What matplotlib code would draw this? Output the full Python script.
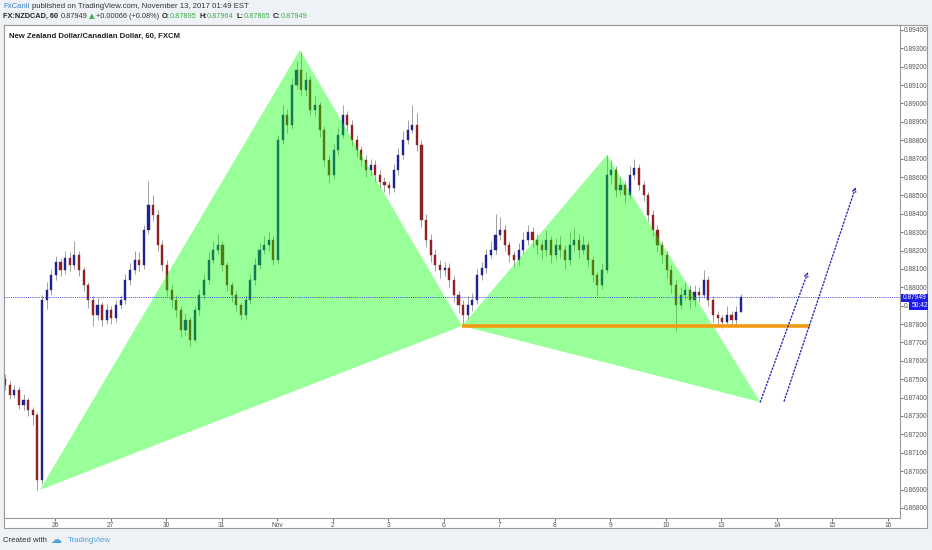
#NZDCAD 60 min chart with a harmonic pattern drawn on top (TradingView style)

import numpy as np
import matplotlib.pyplot as plt
from matplotlib.patches import Rectangle

##Price data, 2 hour bars, in units of 1e-5 (87949 -> 0.87949)
open0 = 87500
close_pts = [87469, 87414, 87442, 87360, 87387, 87333, 87306, 86952, 87931, 87986,
             88067, 88138, 88094, 88160, 88122, 88176, 88094, 88013, 87931, 87850,
             87904, 87822, 87877, 87833, 87904, 87931, 88040, 88094, 88149, 88122,
             88312, 88448, 88394, 88230, 88122, 87986, 87931, 87877, 87768, 87822,
             87714, 87877, 87958, 88040, 88149, 88203, 88230, 88122, 88013, 87958,
             87904, 87850, 87931, 88040, 88122, 88203, 88230, 88258, 88149, 88802,
             88938, 88883, 89101, 89182, 89074, 89128, 88965, 88992, 88856, 88693,
             88611, 88747, 88829, 88938, 88883, 88802, 88747, 88693, 88638, 88666,
             88611, 88573, 88557, 88540, 88638, 88720, 88802, 88856, 88883, 88774,
             88366, 88258, 88176, 88122, 88094, 88105, 88040, 87958, 87904, 87850,
             87904, 87931, 88067, 88105, 88176, 88203, 88285, 88312, 88230, 88176,
             88149, 88203, 88258, 88301, 88258, 88230, 88203, 88258, 88176, 88230,
             88203, 88149, 88230, 88258, 88203, 88230, 88149, 88067, 88013, 88094,
             88611, 88638, 88530, 88557, 88502, 88611, 88649, 88557, 88502, 88394,
             88312, 88230, 88176, 88094, 88013, 87904, 87958, 87986, 87931, 87975,
             87958, 88040, 87931, 87850, 87833, 87812, 87850, 87822, 87866, 87949]
high_pts = [87530, 87490, 87470, 87455, 87420, 87400, 87350, 87320, 87960, 88030,
            88100, 88170, 88160, 88200, 88190, 88250, 88200, 88110, 88030, 87950,
            87940, 87920, 87910, 87900, 87930, 87960, 88070, 88130, 88200, 88190,
            88340, 88580, 88500, 88420, 88260, 88150, 88010, 87960, 87900, 87860,
            87840, 87900, 87990, 88070, 88190, 88250, 88290, 88250, 88140, 88030,
            87980, 87920, 87960, 88070, 88160, 88240, 88280, 88300, 88280, 88830,
            88990, 88970, 89140, 89230, 89280, 89170, 89150, 89040, 89010, 88880,
            88720, 88780, 88870, 88990, 88960, 88910, 88830, 88770, 88720, 88700,
            88690, 88640, 88600, 88580, 88670, 88760, 88850, 88910, 88990, 88950,
            88800, 88400, 88290, 88210, 88150, 88140, 88130, 88060, 87980, 87930,
            87950, 87970, 88100, 88140, 88210, 88250, 88400, 88380, 88340, 88250,
            88200, 88240, 88300, 88340, 88330, 88290, 88260, 88310, 88280, 88270,
            88280, 88230, 88300, 88320, 88290, 88280, 88250, 88170, 88090, 88130,
            88720, 88690, 88660, 88600, 88580, 88660, 88700, 88670, 88580, 88520,
            88420, 88340, 88250, 88200, 88120, 88040, 88000, 88030, 88010, 88010,
            88000, 88094, 88060, 87950, 87870, 87850, 87900, 87870, 87900, 87964]
low_pts = [87440, 87390, 87400, 87340, 87330, 87300, 87250, 86898, 86930, 87880,
           87960, 88040, 88060, 88070, 88090, 88100, 88060, 87980, 87890, 87790,
           87820, 87790, 87800, 87800, 87810, 87880, 87910, 88010, 88070, 88090,
           88100, 88290, 88360, 88200, 88090, 87950, 87890, 87840, 87730, 87740,
           87680, 87700, 87850, 87930, 88020, 88130, 88180, 88090, 87980, 87920,
           87870, 87820, 87830, 87910, 88010, 88100, 88180, 88200, 88120, 88130,
           88780, 88840, 88860, 89080, 89040, 89040, 88930, 88930, 88820, 88660,
           88570, 88590, 88720, 88810, 88850, 88770, 88710, 88660, 88600, 88610,
           88580, 88540, 88520, 88510, 88520, 88610, 88700, 88780, 88840, 88740,
           88330, 88220, 88140, 88090, 88050, 88060, 88000, 87920, 87860, 87784,
           87830, 87870, 87910, 88040, 88080, 88160, 88180, 88260, 88200, 88140,
           88110, 88120, 88180, 88230, 88220, 88180, 88150, 88170, 88130, 88150,
           88160, 88100, 88120, 88200, 88160, 88180, 88110, 88030, 87960, 87990,
           88080, 88560, 88490, 88500, 88460, 88480, 88590, 88530, 88470, 88360,
           88280, 88190, 88130, 88050, 87970, 87760, 87880, 87930, 87890, 87900,
           87920, 87940, 87900, 87810, 87800, 87780, 87790, 87790, 87800, 87865]

#time axis is in trading days, 0 = Oct 26
bar_start = -0.90
bar_step = 1/12.
day_labels = ['26', '27', '30', '31', 'Nov', '2', '3', '6', '7', '8', '9', '10', '13', '14', '15', '16']

#harmonic pattern X A B C D
pattern_t = [-0.27, 4.41, 7.33, 9.94, 12.70]
pattern_p = [0.86898, 0.89291, 0.87790, 0.88720, 0.87376]
support_p = 0.87790
support_end = 13.59
#projection arrows (start t, start p, end t, end p)
proj1 = [12.70, 0.87376, 13.56, 0.88084]
proj2 = [13.13, 0.87381, 14.42, 0.88546]
last_price = 0.87949

W, H = 932, 550
def fx(px):
  return px/float(W)
def fy(py):
  return 1 - py/float(H)

fnt = 'Liberation Sans'
fig = plt.figure(figsize=(W/100., H/100.), dpi=100)
fig.patch.set_facecolor('#eef1f6')

#white frame of the chart (plot + price scale + time scale)
fig.patches.append(Rectangle((fx(4), fy(528)), fx(927)-fx(4), fy(25)-fy(528),
                             transform=fig.transFigure, facecolor='white',
                             edgecolor='#9a9a9a', lw=0.8, zorder=-5))

ax = fig.add_axes([fx(4), fy(518), fx(900)-fx(4), fy(25)-fy(518)])
ax.set_facecolor('white')

c = np.array(close_pts)/1e5
o = np.concatenate(([open0/1e5], c[:-1]))
hi = np.array(high_pts)/1e5
lo = np.array(low_pts)/1e5
t = bar_start + np.arange(len(c))*bar_step

up = c >= o
cols = np.where(up, '#22228c', '#8c2222')
ax.vlines(t, lo, hi, color='#a0a0a0', lw=0.7, zorder=2)
body = np.maximum(np.abs(c - o), 0.00003)
ax.bar(t, body, bottom=np.minimum(o, c), width=0.038, color=cols, edgecolor=cols, lw=0.3, zorder=2)

#pattern triangles, semi transparent on top of candles
ax.fill(pattern_t[0:3], pattern_p[0:3], color='#00ff00', alpha=0.4, lw=0, zorder=3)
ax.fill(pattern_t[2:5], pattern_p[2:5], color='#00ff00', alpha=0.4, lw=0, zorder=3)

#support line
ax.plot([pattern_t[2], support_end], [support_p, support_p], color='#f39c12', lw=2.6,
        solid_capstyle='butt', zorder=5)

#last price line
ax.axhline(last_price, color='#4646d2', lw=0.7, ls=(0, (1, 1.2)), zorder=4)

#projection arrows
for pr in (proj1, proj2):
  ax.annotate('', xy=(pr[2], pr[3]), xytext=(pr[0], pr[1]),
              arrowprops=dict(arrowstyle='->', color='#2a2ab8', lw=1, ls=(0, (1, 1.5)),
                              mutation_scale=6, shrinkA=0, shrinkB=0), zorder=5)

ax.set_xlim(-0.918, 15.217)
ax.set_ylim(0.86745, 0.89427)

ax.set_xticks(np.arange(len(day_labels)))
ax.set_xticklabels(day_labels, family=fnt)
yt = np.arange(0.868, 0.8941, 0.001)
ax.set_yticks(yt)
ax.set_yticklabels(['%.5f' % v for v in yt], family=fnt)
ax.yaxis.tick_right()
ax.tick_params(axis='both', labelsize=4.8, colors='#555555', length=2, width=0.6, pad=1)
ax.tick_params(axis='x', pad=1.2)
for s in ax.spines.values():
  s.set_color('#9a9a9a')
  s.set_linewidth(0.8)

#price label boxes on the price scale
fig.patches.append(Rectangle((fx(900.5), fy(301.5)), fx(927.5)-fx(900.5), fy(293.5)-fy(301.5),
                             transform=fig.transFigure, facecolor='#1c1ce6', lw=0, zorder=5))
fig.text(fx(903), fy(297.5), '0.87949', fontsize=4.8, color='white', va='center',
         family=fnt, zorder=6)
fig.patches.append(Rectangle((fx(909), fy(309.5)), fx(927.5)-fx(909), fy(301.5)-fy(309.5),
                             transform=fig.transFigure, facecolor='#1c1ce6', lw=0, zorder=5))
fig.text(fx(911.5), fy(305.5), '50:42', fontsize=4.8, color='white', va='center',
         family=fnt, zorder=6)

##header, pieces placed one after another
green = '#3fae49'
renderer = fig.canvas.get_renderer()
def row(pieces, x0, py, size):
  x = x0
  for txt, col, wt, gap in pieces:
    fam = 'DejaVu Sans' if txt == u'\u25b2' else fnt
    tx = fig.text(fx(x), fy(py), txt, fontsize=size, color=col, weight=wt, va='center', family=fam)
    x = x + tx.get_window_extent(renderer).width + gap

row([('FxCanli', '#3d85c6', 'normal', 2.5),
     ('published on TradingView.com, November 13, 2017 01:49 EST', '#333333', 'normal', 0)],
    3, 6, 5.6)
row([('FX:NZDCAD, 60', '#222222', 'bold', 2.5),
     ('0.87949', '#333333', 'normal', 1.5),
     (u'\u25b2', green, 'normal', 1.5),
     ('+0.00066 (+0.08%)', '#333333', 'normal', 2.5),
     ('O:', '#222222', 'bold', 0.3),
     ('0.87895', green, 'normal', 2.5),
     ('H:', '#222222', 'bold', 0.3),
     ('0.87964', green, 'normal', 2.5),
     ('L:', '#222222', 'bold', 0.3),
     ('0.87865', green, 'normal', 2.5),
     ('C:', '#222222', 'bold', 0.3),
     ('0.87949', green, 'normal', 0)],
    3, 16, 5.3)

fig.text(fx(9), fy(36), 'New Zealand Dollar/Canadian Dollar, 60, FXCM', fontsize=5.6,
         color='#222222', weight='bold', va='center', family=fnt)

##footer
fig.text(fx(3), fy(540), 'Created with', fontsize=5.6, color='#333333', va='center', family=fnt)
fig.text(fx(50), fy(540), u'\u2601', fontsize=8, color='#4aa3df', va='center', family='DejaVu Sans')
fig.text(fx(68), fy(540), 'TradingView', fontsize=5.6, color='#4aa3df', va='center', family=fnt)

plt.savefig('out.png', dpi=100, facecolor=fig.get_facecolor())
